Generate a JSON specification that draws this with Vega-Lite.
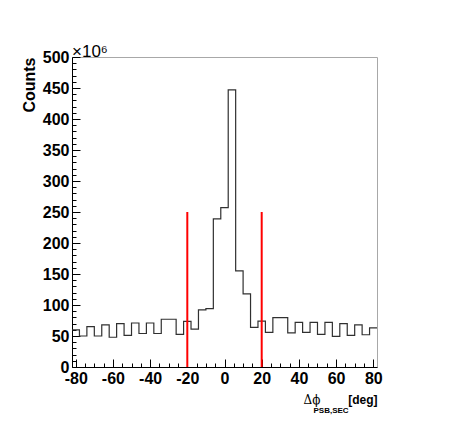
{
  "$schema": "https://vega.github.io/schema/vega-lite/v6.json",
  "width": 305,
  "height": 310,
  "autosize": {"type": "none"},
  "padding": {"left": 72, "top": 57, "right": 73, "bottom": 69},
  "background": "white",
  "title": {"text": "×10⁶", "anchor": "start", "frame": "group", "orient": "top", "font": "Liberation Sans", "fontSize": 17, "fontWeight": "normal", "color": "#000", "baseline": "alphabetic", "offset": 2, "dy": 27},
  "config": {"font": "Liberation Sans", "view": {"stroke": "#a8a8a8", "strokeWidth": 1}},
  "resolve": {"axis": {"x": "independent", "y": "independent"}},
  "layer": [
    {
      "data": {"values": [
        {"lo": -82, "counts": 60}, {"lo": -78, "counts": 50}, {"lo": -74, "counts": 65}, {"lo": -70, "counts": 50},
        {"lo": -66, "counts": 68}, {"lo": -62, "counts": 48}, {"lo": -58, "counts": 70}, {"lo": -54, "counts": 51},
        {"lo": -50, "counts": 71}, {"lo": -46, "counts": 54}, {"lo": -42, "counts": 71}, {"lo": -38, "counts": 54},
        {"lo": -34, "counts": 77}, {"lo": -30, "counts": 77}, {"lo": -26, "counts": 52.5}, {"lo": -22, "counts": 73.5},
        {"lo": -18, "counts": 61}, {"lo": -14, "counts": 92}, {"lo": -10, "counts": 94}, {"lo": -6, "counts": 239},
        {"lo": -2, "counts": 257}, {"lo": 2, "counts": 447}, {"lo": 6, "counts": 155}, {"lo": 10, "counts": 118},
        {"lo": 14, "counts": 64}, {"lo": 18, "counts": 74}, {"lo": 22, "counts": 56}, {"lo": 26, "counts": 79.5},
        {"lo": 30, "counts": 79.5}, {"lo": 34, "counts": 55}, {"lo": 38, "counts": 72}, {"lo": 42, "counts": 56},
        {"lo": 46, "counts": 72}, {"lo": 50, "counts": 52.5}, {"lo": 54, "counts": 72}, {"lo": 58, "counts": 49.5},
        {"lo": 62, "counts": 70}, {"lo": 66, "counts": 51}, {"lo": 70, "counts": 68}, {"lo": 74, "counts": 52},
        {"lo": 78, "counts": 63}, {"lo": 82, "counts": 63}
      ]},
      "mark": {"type": "line", "interpolate": "step-after", "color": "#303030", "strokeWidth": 1.2},
      "encoding": {
        "x": {"field": "lo", "type": "quantitative",
          "scale": {"domain": [-82, 82], "nice": false, "zero": false},
          "axis": {
            "values": [-80,-75,-70,-65,-60,-55,-50,-45,-40,-35,-30,-25,-20,-15,-10,-5,0,5,10,15,20,25,30,35,40,45,50,55,60,65,70,75,80],
            "labelExpr": "datum.value % 20 === 0 ? '' + datum.value : ''",
            "tickSize": {"condition": {"test": "datum.value % 20 === 0", "value": -8}, "value": -4},
            "labelPadding": 11, "labelFontSize": 16, "labelFontWeight": "bold", "labelColor": "#000",
            "labelFlush": false, "labelOverlap": false,
            "domainColor": "#000", "tickColor": "#000", "grid": false,
            "title": "[deg]", "titleFontSize": 12, "titleFontWeight": "bold", "titleColor": "#000",
            "titleAnchor": "end", "titleAlign": "right", "titleBaseline": "alphabetic", "titleX": 305, "titleY": 36
          }
        },
        "y": {"field": "counts", "type": "quantitative",
          "scale": {"domain": [0, 500], "nice": false},
          "axis": {
            "values": [0,10,20,30,40,50,60,70,80,90,100,110,120,130,140,150,160,170,180,190,200,210,220,230,240,250,260,270,280,290,300,310,320,330,340,350,360,370,380,390,400,410,420,430,440,450,460,470,480,490,500],
            "labelExpr": "datum.value % 50 === 0 ? '' + datum.value : ''",
            "tickSize": {"condition": {"test": "datum.value % 50 === 0", "value": -8}, "value": -4},
            "labelPadding": 11, "labelFontSize": 16, "labelFontWeight": "bold", "labelColor": "#000",
            "labelFlush": false, "labelOverlap": false,
            "domainColor": "#000", "tickColor": "#000", "grid": false,
            "title": "Counts", "titleFontSize": 16, "titleFontWeight": "bold", "titleColor": "#000",
            "titleAngle": -90, "titleAlign": "right", "titleBaseline": "alphabetic", "titleX": -38, "titleY": 0
          }
        }
      }
    },
    {
      "data": {"values": [{"cut": -20, "top": 250}, {"cut": 20, "top": 250}]},
      "mark": {"type": "rule", "color": "#ff0000", "strokeWidth": 2},
      "encoding": {
        "x": {"field": "cut", "type": "quantitative",
          "axis": {"orient": "bottom", "domain": false, "ticks": false, "labels": false, "grid": false,
            "title": "Δϕ", "titleFont": "DejaVu Serif", "titleFontSize": 12, "titleFontWeight": "normal", "titleColor": "#000",
            "titleAlign": "left", "titleBaseline": "alphabetic", "titleX": 231, "titleY": 36}
        },
        "y": {"field": "top", "type": "quantitative",
          "axis": {"orient": "right", "domain": false, "ticks": false, "labels": false, "grid": false,
            "title": "PSB,SEC", "titleFontSize": 8, "titleFontWeight": "bold", "titleColor": "#000", "titleAngle": 0,
            "titleAlign": "left", "titleBaseline": "alphabetic", "titleX": -64, "titleY": 355}
        },
        "y2": {"datum": 0}
      }
    }
  ]
}
